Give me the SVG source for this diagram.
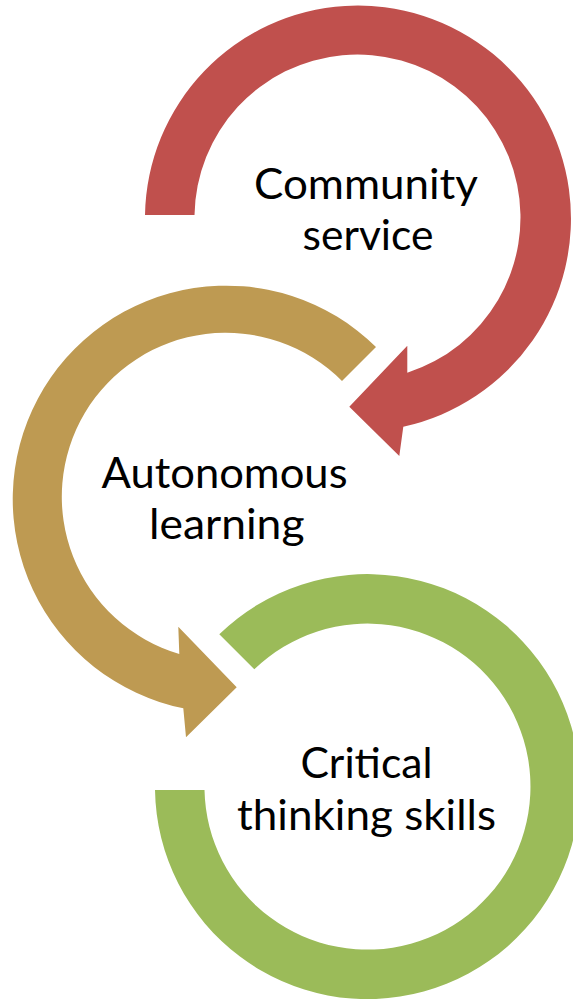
<svg xmlns="http://www.w3.org/2000/svg" width="573" height="999" viewBox="0 0 573 999">
<style>
.lbl{font-family:Lato,"Liberation Sans",Arial,sans-serif;font-size:43px;fill:#000000}
.red{fill:#C0504D}
.gold{fill:#BE9A52}
.green{fill:#9BBB59}
</style>
<rect x="0" y="0" width="573" height="999" fill="#ffffff"/>
<g id="connectors"></g>
<g id="node-community-service">
<path class="red" d="M 145,215 A 213 213 0 1 1 403.3,426.7 L 399.3,456 L 349.3,406.7 L 407.3,345.7 L 407.3,372.7 A 163 163 0 1 0 194.5,215 Z"/>
<text class="lbl" x="254" y="199" textLength="224" lengthAdjust="spacingAndGlyphs">Community</text>
<text class="lbl" x="302.5" y="250" textLength="131" lengthAdjust="spacingAndGlyphs">service</text>
</g>
<g id="node-autonomous-learning">
<path class="gold" d="M 376,347 A 213.5 213.5 0 1 0 183.3,708.3 L 186,737.3 L 236.7,687.3 L 178.3,626.7 L 179.3,654 A 164 164 0 1 1 342,381 Z"/>
<text class="lbl" x="101.5" y="488" textLength="246" lengthAdjust="spacingAndGlyphs">Autonomous</text>
<text class="lbl" x="149" y="539" textLength="155.5" lengthAdjust="spacingAndGlyphs">learning</text>
</g>
<g id="node-critical-thinking">
<path class="green" d="M 219.3,634.3 A 212.5 212.5 0 1 1 155,790 L 204.5,790 A 163 163 0 1 0 254.3,669.3 Z"/>
<text class="lbl" x="300.5" y="778" textLength="132" lengthAdjust="spacingAndGlyphs">Critical</text>
<text class="lbl" x="237" y="830" textLength="259" lengthAdjust="spacingAndGlyphs">thinking skills</text>
</g>
</svg>
